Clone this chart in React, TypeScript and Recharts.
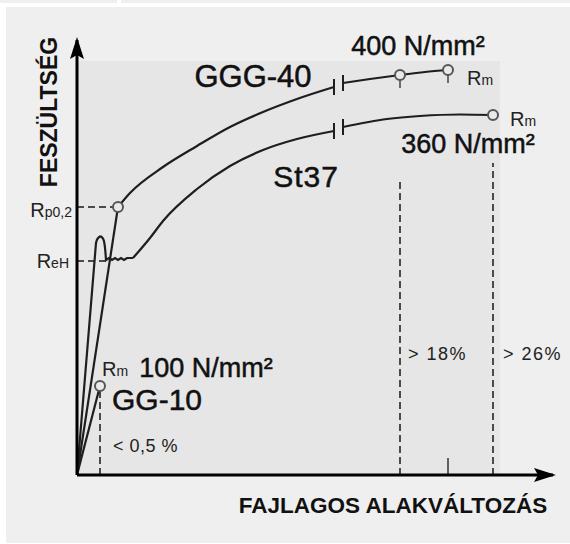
import React from 'react';
import { ComposedChart, Line, Scatter, XAxis, YAxis, ReferenceLine } from 'recharts';

// strain (not to scale) vs. stress
const gggElastic = [
  { x: 0, y: 0 },
  { x: 4.1, y: 268 },
];
const gggHardening = [
  { x: 4.1, y: 268 },
  { x: 5.3, y: 282 },
  { x: 8.6, y: 308 },
  { x: 12.0, y: 329 },
  { x: 15.3, y: 348 },
  { x: 18.6, y: 363 },
  { x: 22.0, y: 376 },
  { x: 25.7, y: 388 },
];
const gggAfterBreak = [
  { x: 26.6, y: 392 },
  { x: 29.3, y: 396 },
  { x: 32.3, y: 400 },
  { x: 34.8, y: 403 },
  { x: 37.1, y: 405 },
];

const st37Elastic = [
  { x: 0, y: 0 },
  { x: 1.9, y: 232 },
  { x: 2.0, y: 235.5 },
  { x: 2.15, y: 237.5 },
  { x: 2.3, y: 238.5 },
  { x: 2.45, y: 238.2 },
  { x: 2.6, y: 236.5 },
  { x: 2.7, y: 234 },
  { x: 2.78, y: 229 },
  { x: 2.85, y: 222 },
  { x: 2.9, y: 215 },
  { x: 3.2, y: 217 },
  { x: 3.5, y: 215 },
  { x: 3.8, y: 217 },
  { x: 4.1, y: 215 },
  { x: 4.4, y: 217 },
  { x: 4.7, y: 215 },
  { x: 5.0, y: 217 },
  { x: 5.6, y: 217 },
];
const st37Hardening = [
  { x: 5.6, y: 217 },
  { x: 7.3, y: 237 },
  { x: 8.6, y: 254 },
  { x: 12.0, y: 286 },
  { x: 15.3, y: 309 },
  { x: 18.6, y: 325 },
  { x: 22.0, y: 336 },
  { x: 25.7, y: 344 },
];
const st37AfterBreak = [
  { x: 26.6, y: 348 },
  { x: 31.0, y: 356 },
  { x: 34.3, y: 359 },
  { x: 38.3, y: 360.5 },
  { x: 41.6, y: 360 },
];

const gg10Line = [
  { x: 0, y: 0 },
  { x: 2.3, y: 89 },
];

// circles: Rp0,2 (GGG-40), Rm St37, Rm GG-10
const ringPoints = [
  { x: 4.1, y: 268 },
  { x: 41.6, y: 360 },
  { x: 2.3, y: 89 },
];
// circles with a short stem below (GGG-40 upper curve)
const stemPoints = [
  { x: 32.3, y: 400 },
  { x: 37.1, y: 405 },
];
// "break" marks on both curves
const breakPoints = [
  { x: 25.7, y: 388 },
  { x: 26.6, y: 392 },
  { x: 25.7, y: 344 },
  { x: 26.6, y: 348 },
];

// dashed guides
const horizontalGuides = [
  { y: 268, x: 4.1 },
  { y: 214, x: 2.9 },
];
const verticalGuides = [
  { x: 2.3, y: 89 },
  { x: 32.3, y: 295 },
  { x: 41.6, y: 312 },
];
const axisTicks = [{ x: 37.1, y: 17 }];

const font = '"Liberation Sans", Arial, sans-serif';
const ink = '#111';
const lineColor = '#1e1e1e';
const guideColor = '#4a4a4a';

const Ring = (props: any) => (
  <circle cx={props.cx} cy={props.cy} r={5} fill="#e9e9e9" stroke="#555" strokeWidth={2} />
);

const StemRing = (props: any) => (
  <g>
    <line x1={props.cx} x2={props.cx} y1={props.cy + 5} y2={props.cy + 13} stroke="#444" strokeWidth={1.5} />
    <circle cx={props.cx} cy={props.cy} r={5} fill="#e9e9e9" stroke="#555" strokeWidth={2} />
  </g>
);

const BreakTick = (props: any) => (
  <line x1={props.cx} x2={props.cx} y1={props.cy - 8} y2={props.cy + 8} stroke={lineColor} strokeWidth={2} />
);

export default function App() {
  return (
    <div style={{ position: 'absolute', left: 0, top: 0, width: 570, height: 544, background: '#fff', overflow: 'hidden' }}>
      <div style={{ position: 'absolute', left: 0, top: 0, width: 117, height: 3, background: '#efefef' }} />
      <div style={{ position: 'absolute', left: 121, top: 0, width: 449, height: 3, background: '#efefef' }} />
      <div style={{ position: 'absolute', left: 6, top: 7, width: 564, height: 536, background: '#efefef' }} />
      <div style={{ position: 'absolute', left: 77, top: 61, width: 423, height: 414, background: '#e6e6e6' }} />

      <svg width={0} height={0} style={{ position: 'absolute' }}>
        <defs>
          <marker
            id="arrowHead"
            viewBox="0 0 22 14"
            refX={19}
            refY={7}
            markerWidth={22}
            markerHeight={14}
            markerUnits="userSpaceOnUse"
            orient="auto-start-reverse"
          >
            <path d="M0,0 L22,7 L0,14 L4,7 Z" fill="#000" />
          </marker>
        </defs>
      </svg>

      <ComposedChart
        width={570}
        height={544}
        margin={{ top: 40, right: 17, bottom: 68, left: 76 }}
        style={{ position: 'absolute', left: 0, top: 0 }}
      >
        <XAxis
          type="number"
          dataKey="x"
          domain={[0, 47.6]}
          allowDataOverflow
          height={1}
          tick={false}
          tickLine={false}
          axisLine={{ stroke: '#000', strokeWidth: 3, markerEnd: 'url(#arrowHead)' }}
        />
        <YAxis
          type="number"
          dataKey="y"
          domain={[0, 435]}
          allowDataOverflow
          width={1}
          tick={false}
          tickLine={false}
          axisLine={{ stroke: '#000', strokeWidth: 3, markerStart: 'url(#arrowHead)' }}
        />

        {horizontalGuides.map((g, i) => (
          <ReferenceLine
            key={'h' + i}
            segment={[{ x: 0, y: g.y }, { x: g.x, y: g.y }]}
            stroke={guideColor}
            strokeWidth={2}
            strokeDasharray="7 4"
          />
        ))}
        {verticalGuides.map((g, i) => (
          <ReferenceLine
            key={'v' + i}
            segment={[{ x: g.x, y: 0 }, { x: g.x, y: g.y }]}
            stroke={guideColor}
            strokeWidth={2}
            strokeDasharray="7 4"
          />
        ))}
        {axisTicks.map((t, i) => (
          <ReferenceLine
            key={'t' + i}
            segment={[{ x: t.x, y: 0 }, { x: t.x, y: t.y }]}
            stroke="#333"
            strokeWidth={1.5}
          />
        ))}

        <Line data={gg10Line} dataKey="y" type="linear" stroke={lineColor} strokeWidth={2.2} dot={false} activeDot={false} isAnimationActive={false} />
        <Line data={st37Elastic} dataKey="y" type="linear" stroke={lineColor} strokeWidth={2.2} dot={false} activeDot={false} isAnimationActive={false} />
        <Line data={st37Hardening} dataKey="y" type="monotone" stroke={lineColor} strokeWidth={2.2} dot={false} activeDot={false} isAnimationActive={false} />
        <Line data={st37AfterBreak} dataKey="y" type="monotone" stroke={lineColor} strokeWidth={2.2} dot={false} activeDot={false} isAnimationActive={false} />
        <Line data={gggElastic} dataKey="y" type="linear" stroke={lineColor} strokeWidth={2.2} dot={false} activeDot={false} isAnimationActive={false} />
        <Line data={gggHardening} dataKey="y" type="monotone" stroke={lineColor} strokeWidth={2.2} dot={false} activeDot={false} isAnimationActive={false} />
        <Line data={gggAfterBreak} dataKey="y" type="monotone" stroke={lineColor} strokeWidth={2.2} dot={false} activeDot={false} isAnimationActive={false} />

        <Scatter data={breakPoints} shape={BreakTick} isAnimationActive={false} />
        <Scatter data={stemPoints} shape={StemRing} isAnimationActive={false} />
        <Scatter data={ringPoints} shape={Ring} isAnimationActive={false} />
      </ComposedChart>

      <svg width={570} height={544} style={{ position: 'absolute', left: 0, top: 0, pointerEvents: 'none' }} fontFamily={font} fill={ink}>
        <text x={57} y={112} transform="rotate(-90 57 112)" textAnchor="middle" fontWeight="bold" fontSize={23}>
          FESZÜLTSÉG
        </text>
        <text x={393} y={513} textAnchor="middle" fontWeight="bold" fontSize={22.5}>
          FAJLAGOS ALAKVÁLTOZÁS
        </text>

        <g stroke={ink} strokeWidth={0.5}>
          <text x={253} y={87} textAnchor="middle" fontSize={31}>GGG-40</text>
          <text x={306} y={187} textAnchor="middle" fontSize={30} letterSpacing={1}>St37</text>
          <text x={157} y={410} textAnchor="middle" fontSize={30}>GG-10</text>
          <text x={418} y={55} textAnchor="middle" fontSize={27}>400 N/mm²</text>
          <text x={468} y={153} textAnchor="middle" fontSize={27}>360 N/mm²</text>
          <text x={206} y={377} textAnchor="middle" fontSize={27}>100 N/mm²</text>
        </g>

        <text x={467} y={85} fill="#222">
          <tspan fontSize={20}>R</tspan>
          <tspan fontSize={14}>m</tspan>
        </text>
        <text x={510} y={126} fill="#222">
          <tspan fontSize={20}>R</tspan>
          <tspan fontSize={14}>m</tspan>
        </text>
        <text x={102} y={376} fill="#222">
          <tspan fontSize={20}>R</tspan>
          <tspan fontSize={14}>m</tspan>
        </text>
        <text x={72} y={217} textAnchor="end" fill="#222">
          <tspan fontSize={20}>R</tspan>
          <tspan fontSize={14}>p0,2</tspan>
        </text>
        <text x={69} y={268} textAnchor="end" fill="#222">
          <tspan fontSize={20}>R</tspan>
          <tspan fontSize={14}>eH</tspan>
        </text>

        <text x={113} y={452} fontSize={18} fill="#222" letterSpacing={0.5}>{'< 0,5 %'}</text>
        <text x={408} y={360} fontSize={18} fill="#222" letterSpacing={1.5}>{'> 18%'}</text>
        <text x={503} y={360} fontSize={18} fill="#222" letterSpacing={1.5}>{'> 26%'}</text>
      </svg>
    </div>
  );
}
